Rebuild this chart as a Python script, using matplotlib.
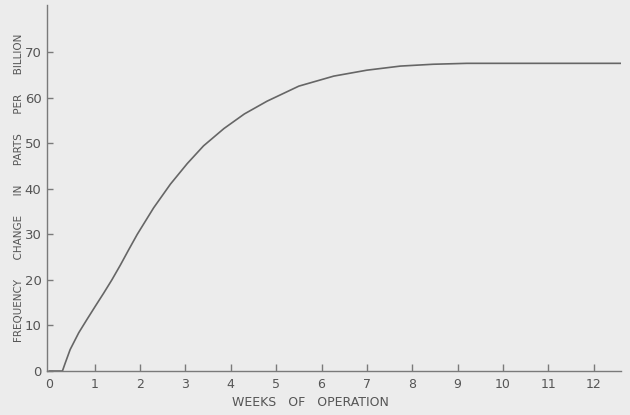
import matplotlib
matplotlib.use("Agg")
import matplotlib.pyplot as plt
from matplotlib import font_manager

# 周波数変化の測定値(週ごと)
weeks = [0.0, 0.29, 0.35, 0.46, 0.65, 0.83, 1.02, 1.2, 1.38, 1.57, 1.75,
         1.94, 2.3, 2.67, 3.04, 3.4, 3.85, 4.3, 4.8, 5.5, 6.27, 7.0, 7.74,
         8.46, 9.2, 10.6, 12.6]
freq_change = [0.0, 0.0, 1.7, 4.7, 8.4, 11.3, 14.3, 17.1, 20.0, 23.3, 26.6,
               30.0, 35.8, 41.0, 45.5, 49.4, 53.2, 56.4, 59.2, 62.5, 64.7,
               66.0, 66.9, 67.3, 67.5, 67.5, 67.5]
x_ticks = list(range(0, 13))
y_ticks = list(range(0, 80, 10))

bg = "#ececec"
ink = "#666666"
txt = "#555555"

names = {f.name for f in font_manager.fontManager.ttflist}
narrow = "Liberation Sans Narrow" if "Liberation Sans Narrow" in names else "DejaVu Sans"
plt.rcParams["font.family"] = [narrow, "DejaVu Sans"]

fig = plt.figure(figsize=(6.3, 4.15), dpi=100, facecolor=bg)
ax = fig.add_axes([47 / 630, 44 / 415, 574 / 630, 366 / 415], facecolor=bg)

ax.plot(weeks, freq_change, color=ink, lw=1.2)

ax.set_xlim(-0.05, 12.6)
ax.set_ylim(0, 80.3)
ax.spines["top"].set_visible(False)
ax.spines["right"].set_visible(False)
for s in ("left", "bottom"):
    ax.spines[s].set_color("#7a7a7a")
    ax.spines[s].set_linewidth(1.0)

ax.set_xticks(x_ticks)
ax.set_yticks(y_ticks)
ax.tick_params(axis="x", direction="in", length=5, width=1, color="#7a7a7a",
               labelsize=9, labelcolor=txt, pad=5)
ax.tick_params(axis="y", direction="in", length=4, width=1, color="#7a7a7a",
               labelsize=9.5, labelcolor=txt, pad=4)
ax.xaxis.get_major_ticks()[0].tick1line.set_visible(False)

fig.text(310 / 630, 1 - 402 / 415, "WEEKS   OF   OPERATION",
         ha="center", va="center", fontsize=9, color=txt)
fig.text(19 / 630, 1 - 188 / 415,
         "FREQUENCY      CHANGE      IN      PARTS      PER      BILLION",
         rotation=90, ha="center", va="center", fontsize=7.5, color=txt)

fig.savefig("out.png", dpi=100, facecolor=bg)
